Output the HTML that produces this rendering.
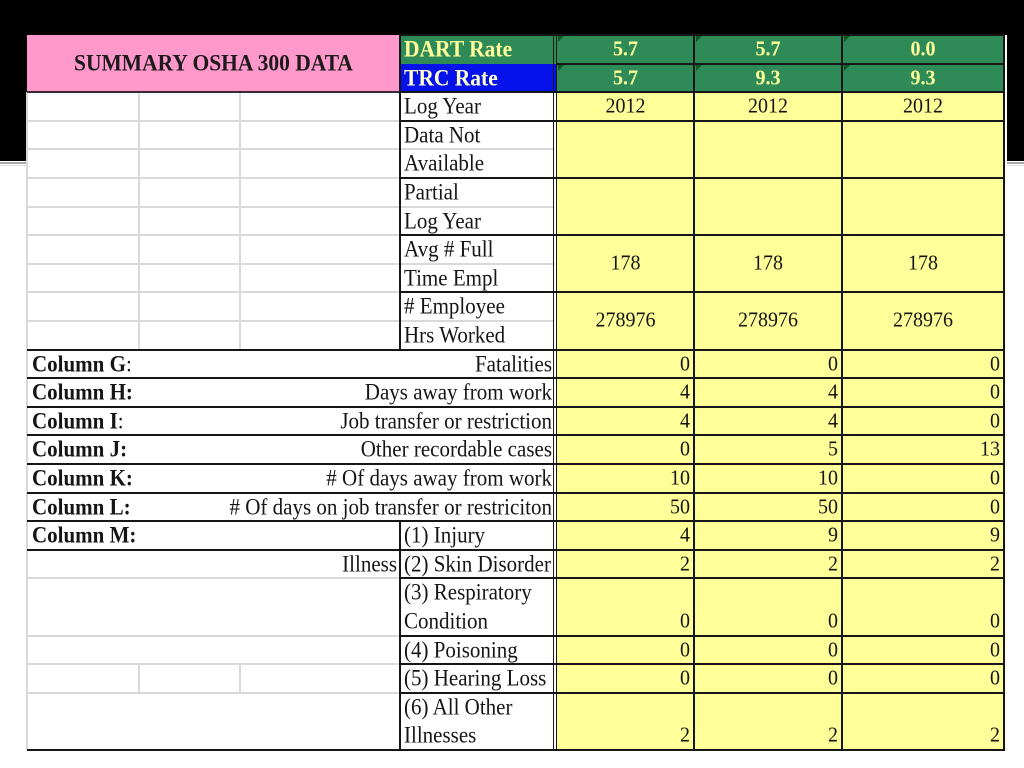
<!DOCTYPE html>
<html><head><meta charset="utf-8"><style>
*{margin:0;padding:0;box-sizing:border-box}
html,body{width:1024px;height:768px;overflow:hidden;background:#fff}
#c{position:relative;width:1024px;height:768px;background:#fff;font-family:"Liberation Serif","Times New Roman",serif;color:#151515}
.a{position:absolute}
.g{position:absolute;background:#d9d9d9}
.k{position:absolute;background:#161616}
.t{position:absolute;font-size:21px;line-height:28.6px;height:28.6px;white-space:nowrap;transform:scaleY(1.08)}
.n{position:absolute;font-size:20px;line-height:28.6px;height:28.6px;white-space:nowrap;text-align:right;transform:scaleY(1.08)}
.c1{left:557px;width:137px;text-align:center}
.c2{left:694px;width:148px;text-align:center}
.c3{left:842px;width:162px;text-align:center}
.r1{right:334px}.r2{right:186px}.r3{right:24px}
.b{font-weight:bold}
.lb{left:404px}
.tri{position:absolute;width:0;height:0;border-top:6px solid #0d5a22;border-right:6px solid transparent}
</style></head><body><div id="c">
<div class="a" style="left:0;top:0;width:1024px;height:161px;background:#000"></div>
<div class="a" style="left:0;top:162px;width:1024px;height:2px;background:#a9a9a9"></div>
<div class="a" style="left:0;top:165px;width:1024px;height:1px;background:#e2e2e2"></div>
<div class="a" style="left:27px;top:35px;width:980px;height:716px;background:#fff"></div>
<div class="a" style="left:27px;top:35px;width:373px;height:57px;background:#ff99cc"></div>
<div class="a" style="left:400px;top:35px;width:156px;height:29px;background:#2e8b57"></div>
<div class="a" style="left:400px;top:64px;width:156px;height:28px;background:#0612ea"></div>
<div class="a" style="left:556px;top:35px;width:448px;height:57px;background:#2e8b57"></div>
<div class="a" style="left:556px;top:92px;width:448px;height:658px;background:#ffff99"></div>
<div class="tri" style="left:558px;top:36px"></div>
<div class="tri" style="left:696px;top:36px"></div>
<div class="tri" style="left:844px;top:36px"></div>
<div class="tri" style="left:558px;top:65px"></div>
<div class="tri" style="left:696px;top:65px"></div>
<div class="tri" style="left:844px;top:65px"></div>

<div class="g" style="left:26px;top:92px;width:2px;height:658px"></div>
<div class="g" style="left:137.5px;top:92px;width:2px;height:258px"></div>
<div class="g" style="left:239px;top:92px;width:2px;height:258px"></div>
<div class="g" style="left:137.5px;top:664px;width:2px;height:29px"></div>
<div class="g" style="left:239px;top:664px;width:2px;height:29px"></div>
<div class="g" style="left:27px;top:120px;width:373px;height:2px"></div>
<div class="g" style="left:27px;top:148.4px;width:527px;height:2px"></div>
<div class="g" style="left:27px;top:177px;width:373px;height:2px"></div>
<div class="g" style="left:27px;top:205.6px;width:527px;height:2px"></div>
<div class="g" style="left:27px;top:234.2px;width:373px;height:2px"></div>
<div class="g" style="left:27px;top:262.8px;width:527px;height:2px"></div>
<div class="g" style="left:27px;top:291.4px;width:373px;height:2px"></div>
<div class="g" style="left:27px;top:320px;width:527px;height:2px"></div>
<div class="g" style="left:27px;top:577.4px;width:373px;height:2px"></div>
<div class="g" style="left:27px;top:634.6px;width:373px;height:2px"></div>
<div class="g" style="left:27px;top:663.2px;width:373px;height:2px"></div>
<div class="g" style="left:27px;top:691.8px;width:373px;height:2px"></div>

<div class="k" style="left:27px;top:91px;width:373px;height:2px;background:#3a2a35"></div>
<div class="k" style="left:400px;top:34px;width:604px;height:2px"></div>
<div class="k" style="left:399px;top:35px;width:2px;height:315px"></div>
<div class="k" style="left:399px;top:521px;width:2px;height:230px"></div>
<div class="k" style="left:552.5px;top:35px;width:1.6px;height:716px"></div>
<div class="k" style="left:555.8px;top:35px;width:1.6px;height:716px"></div>
<div class="k" style="left:693px;top:35px;width:2px;height:716px"></div>
<div class="k" style="left:841px;top:35px;width:2px;height:716px"></div>
<div class="k" style="left:1003px;top:35px;width:2px;height:716px"></div>
<div class="a" style="left:1005px;top:35px;width:2px;height:127px;background:#fff"></div>
<div class="k" style="left:556px;top:62.6px;width:448px;height:2px"></div>
<div class="k" style="left:400px;top:91.2px;width:604px;height:2px"></div>
<div class="k" style="left:400px;top:119.8px;width:604px;height:2px"></div>
<div class="k" style="left:400px;top:177px;width:604px;height:2px"></div>
<div class="k" style="left:400px;top:234.2px;width:604px;height:2px"></div>
<div class="k" style="left:400px;top:291.4px;width:604px;height:2px"></div>
<div class="k" style="left:27px;top:348.6px;width:977px;height:2px"></div>
<div class="k" style="left:27px;top:377.2px;width:977px;height:2px"></div>
<div class="k" style="left:27px;top:405.8px;width:977px;height:2px"></div>
<div class="k" style="left:27px;top:434.4px;width:977px;height:2px"></div>
<div class="k" style="left:27px;top:463px;width:977px;height:2px"></div>
<div class="k" style="left:27px;top:491.6px;width:977px;height:2px"></div>
<div class="k" style="left:27px;top:520.2px;width:977px;height:2px"></div>
<div class="k" style="left:27px;top:548.8px;width:977px;height:2px"></div>
<div class="k" style="left:400px;top:577.4px;width:604px;height:2px"></div>
<div class="k" style="left:400px;top:634.6px;width:604px;height:2px"></div>
<div class="k" style="left:400px;top:663.2px;width:604px;height:2px"></div>
<div class="k" style="left:400px;top:691.8px;width:604px;height:2px"></div>
<div class="k" style="left:27px;top:749px;width:978px;height:2px"></div>

<div class="t b" style="left:27px;width:373px;top:35px;height:57px;line-height:57px;text-align:center;font-size:21.5px;color:#1d1a1c">SUMMARY OSHA 300 DATA</div>
<div class="t b lb" style="top:35px;font-size:21.5px;color:#ffff99">DART Rate</div>
<div class="t b lb" style="top:63.6px;font-size:21.5px;color:#ffffcc">TRC Rate</div>
<div class="n b c1" style="top:35px;color:#ffff99">5.7</div>
<div class="n b c2" style="top:35px;color:#ffff99">5.7</div>
<div class="n b c3" style="top:35px;color:#ffff99">0.0</div>
<div class="n b c1" style="top:63.6px;color:#ffff99">5.7</div>
<div class="n b c2" style="top:63.6px;color:#ffff99">9.3</div>
<div class="n b c3" style="top:63.6px;color:#ffff99">9.3</div>

<div class="t lb" style="top:92.2px">Log Year</div>
<div class="t lb" style="top:120.8px">Data Not</div>
<div class="t lb" style="top:149.4px">Available</div>
<div class="t lb" style="top:178px">Partial</div>
<div class="t lb" style="top:206.6px">Log Year</div>
<div class="t lb" style="top:235.2px">Avg # Full</div>
<div class="t lb" style="top:263.8px">Time Empl</div>
<div class="t lb" style="top:292.4px"># Employee</div>
<div class="t lb" style="top:321px">Hrs Worked</div>
<div class="t lb" style="top:521.2px">(1) Injury</div>
<div class="t lb" style="top:549.8px">(2) Skin Disorder</div>
<div class="t lb" style="top:578.4px">(3) Respiratory</div>
<div class="t lb" style="top:607px">Condition</div>
<div class="t lb" style="top:635.6px">(4) Poisoning</div>
<div class="t lb" style="top:664.2px">(5) Hearing Loss</div>
<div class="t lb" style="top:692.8px">(6) All Other</div>
<div class="t lb" style="top:721.4px">Illnesses</div>

<div class="n c1" style="top:92.2px">2012</div>
<div class="n c2" style="top:92.2px">2012</div>
<div class="n c3" style="top:92.2px">2012</div>
<div class="n c1" style="top:235.2px;height:57.2px;line-height:57.2px">178</div>
<div class="n c2" style="top:235.2px;height:57.2px;line-height:57.2px">178</div>
<div class="n c3" style="top:235.2px;height:57.2px;line-height:57.2px">178</div>
<div class="n c1" style="top:292.4px;height:57.2px;line-height:57.2px">278976</div>
<div class="n c2" style="top:292.4px;height:57.2px;line-height:57.2px">278976</div>
<div class="n c3" style="top:292.4px;height:57.2px;line-height:57.2px">278976</div>

<div class="t" style="left:32px;top:349.6px"><b>Column G</b>:</div>
<div class="t" style="left:32px;top:378.2px"><b>Column H:</b></div>
<div class="t" style="left:32px;top:406.8px"><b>Column I</b>:</div>
<div class="t" style="left:32px;top:435.4px"><b>Column J:</b></div>
<div class="t" style="left:32px;top:464px"><b>Column K:</b></div>
<div class="t" style="left:32px;top:492.6px"><b>Column L:</b></div>
<div class="t" style="left:32px;top:521.2px"><b>Column M:</b></div>
<div class="t" style="right:472px;top:349.6px">Fatalities</div>
<div class="t" style="right:472px;top:378.2px">Days away from work</div>
<div class="t" style="right:472px;top:406.8px">Job transfer or restriction</div>
<div class="t" style="right:472px;top:435.4px">Other recordable cases</div>
<div class="t" style="right:472px;top:464px"># Of days away from work</div>
<div class="t" style="right:472px;top:492.6px"># Of days on job transfer or restriciton</div>
<div class="t" style="right:627px;top:549.8px">Illness</div>

<div class="n r1" style="top:349.6px">0</div><div class="n r2" style="top:349.6px">0</div><div class="n r3" style="top:349.6px">0</div>
<div class="n r1" style="top:378.2px">4</div><div class="n r2" style="top:378.2px">4</div><div class="n r3" style="top:378.2px">0</div>
<div class="n r1" style="top:406.8px">4</div><div class="n r2" style="top:406.8px">4</div><div class="n r3" style="top:406.8px">0</div>
<div class="n r1" style="top:435.4px">0</div><div class="n r2" style="top:435.4px">5</div><div class="n r3" style="top:435.4px">13</div>
<div class="n r1" style="top:464px">10</div><div class="n r2" style="top:464px">10</div><div class="n r3" style="top:464px">0</div>
<div class="n r1" style="top:492.6px">50</div><div class="n r2" style="top:492.6px">50</div><div class="n r3" style="top:492.6px">0</div>
<div class="n r1" style="top:521.2px">4</div><div class="n r2" style="top:521.2px">9</div><div class="n r3" style="top:521.2px">9</div>
<div class="n r1" style="top:549.8px">2</div><div class="n r2" style="top:549.8px">2</div><div class="n r3" style="top:549.8px">2</div>
<div class="n r1" style="top:607px">0</div><div class="n r2" style="top:607px">0</div><div class="n r3" style="top:607px">0</div>
<div class="n r1" style="top:635.6px">0</div><div class="n r2" style="top:635.6px">0</div><div class="n r3" style="top:635.6px">0</div>
<div class="n r1" style="top:664.2px">0</div><div class="n r2" style="top:664.2px">0</div><div class="n r3" style="top:664.2px">0</div>
<div class="n r1" style="top:721.4px">2</div><div class="n r2" style="top:721.4px">2</div><div class="n r3" style="top:721.4px">2</div>
</div></body></html>
